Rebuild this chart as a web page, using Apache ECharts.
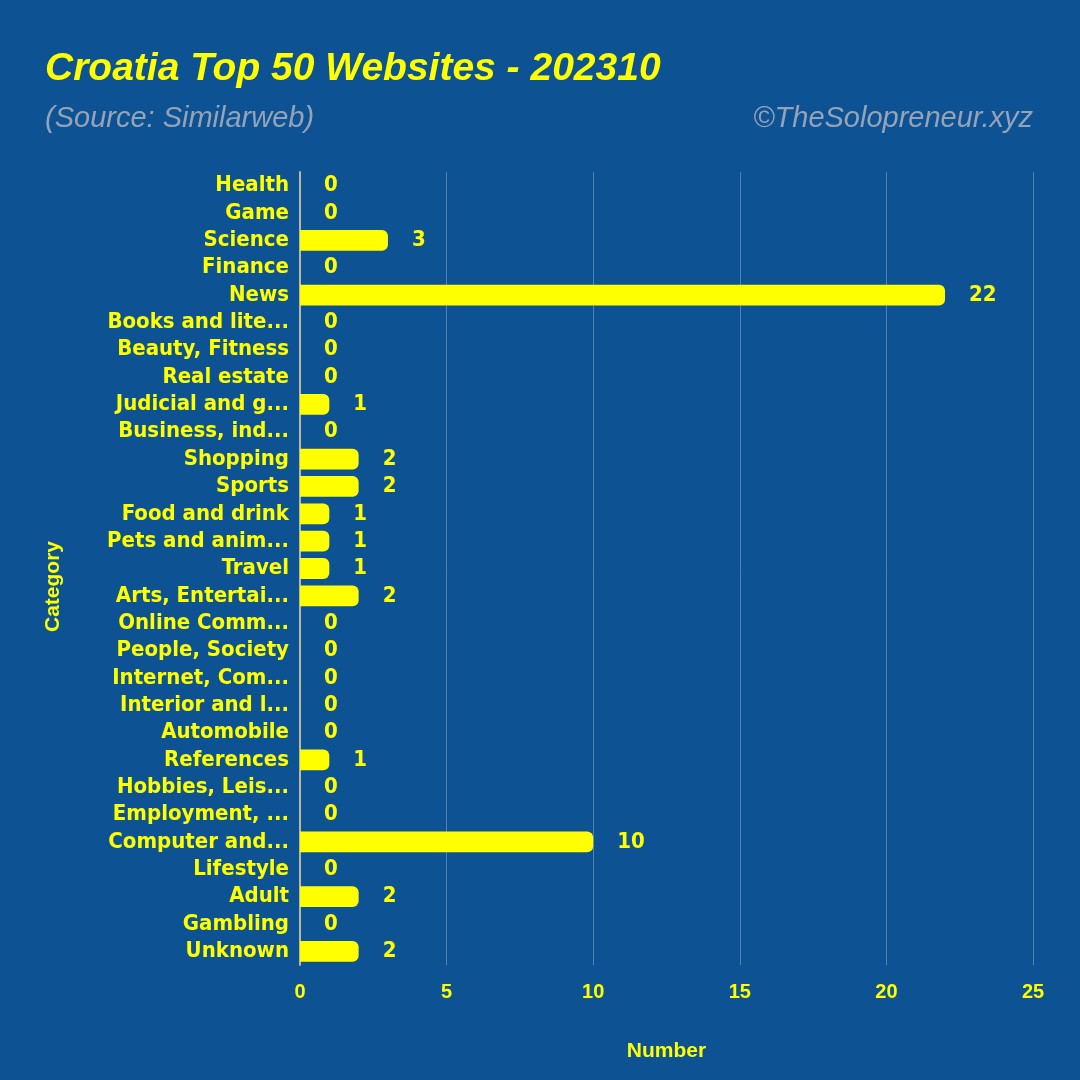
<!DOCTYPE html>
<html>
<head>
<meta charset="utf-8">
<script src="https://cdn.jsdelivr.net/npm/echarts@6/dist/echarts.min.js"></script>
<style>
html,body{margin:0;padding:0;background:#0d5394;}
#chart{width:1080px;height:1080px;}
</style>
</head>
<body>
<div id="chart"></div>
<script>
const categories = [
  "Health","Game","Science","Finance","News","Books and literature","Beauty, Fitness",
  "Real estate","Judicial and government","Business, industry","Shopping","Sports",
  "Food and drink","Pets and animals","Travel","Arts, Entertainment","Online Communities",
  "People, Society","Internet, Computer","Interior and landscape","Automobile","References",
  "Hobbies, Leisure","Employment, Jobs","Computer and Electronics","Lifestyle","Adult",
  "Gambling","Unknown"
];
const values = [0,0,3,0,22,0,0,0,1,0,2,2,1,1,1,2,0,0,0,0,0,1,0,0,10,0,2,0,2];
const xTicks = [0,5,10,15,20,25];

const chart = echarts.init(document.getElementById('chart'));
const yellow = '#ffff00';
chart.setOption({
  backgroundColor: '#0d5394',
  title: [
    {text: 'Croatia Top 50 Websites - 202310', left: 40, top: 45,
     textStyle: {color: yellow, fontSize: 39, fontWeight: 'bold', fontStyle: 'italic', fontFamily: 'Liberation Sans'}},
    {text: '(Source: Similarweb)', left: 40, top: 99,
     textStyle: {color: '#95a3b8', fontSize: 29, fontWeight: 'normal', fontStyle: 'italic', fontFamily: 'Liberation Sans'}},
    {text: '©TheSolopreneur.xyz', right: 42, top: 99,
     textStyle: {color: '#95a3b8', fontSize: 29, fontWeight: 'normal', fontStyle: 'italic', fontFamily: 'Liberation Sans'}}
  ],
  grid: {left: 300, right: 47, top: 172, bottom: 115, containLabel: false},
  xAxis: {
    type: 'value', min: xTicks[0], max: xTicks[xTicks.length-1], interval: 5,
    name: 'Number', nameLocation: 'middle', nameGap: 76,
    nameTextStyle: {color: yellow, fontSize: 21, fontWeight: 'bold', fontFamily: 'Liberation Sans'},
    axisLine: {show: false}, axisTick: {show: false},
    axisLabel: {color: yellow, fontSize: 20, fontWeight: 'bold', fontFamily: 'Liberation Sans', margin: 17},
    splitLine: {show: true, lineStyle: {color: 'rgba(255,255,255,0.28)', width: 1}}
  },
  yAxis: {
    type: 'category', data: categories, inverse: true,
    name: 'Category', nameLocation: 'middle', nameGap: 236, nameRotate: 90,
    nameTextStyle: {color: yellow, fontSize: 21, fontWeight: 'bold', fontFamily: 'Liberation Sans',
                    padding: [0, 36, 0, 0]},
    axisLine: {show: true, lineStyle: {color: '#b4b9a0', width: 2}},
    axisTick: {show: false},
    axisLabel: {color: yellow, fontSize: 22, fontWeight: 'bold', fontFamily: 'DejaVu Sans Condensed',
                margin: 11, width: 184, overflow: 'truncate', interval: 0}
  },
  series: [{
    type: 'bar', data: values, barWidth: '76%',
    itemStyle: {color: yellow, borderRadius: [0, 6, 6, 0]},
    label: {show: true, position: 'right', distance: 24, color: yellow, fontSize: 22,
            fontWeight: 'bold', fontFamily: 'DejaVu Sans Condensed'}
  }]
});
</script>
</body>
</html>
